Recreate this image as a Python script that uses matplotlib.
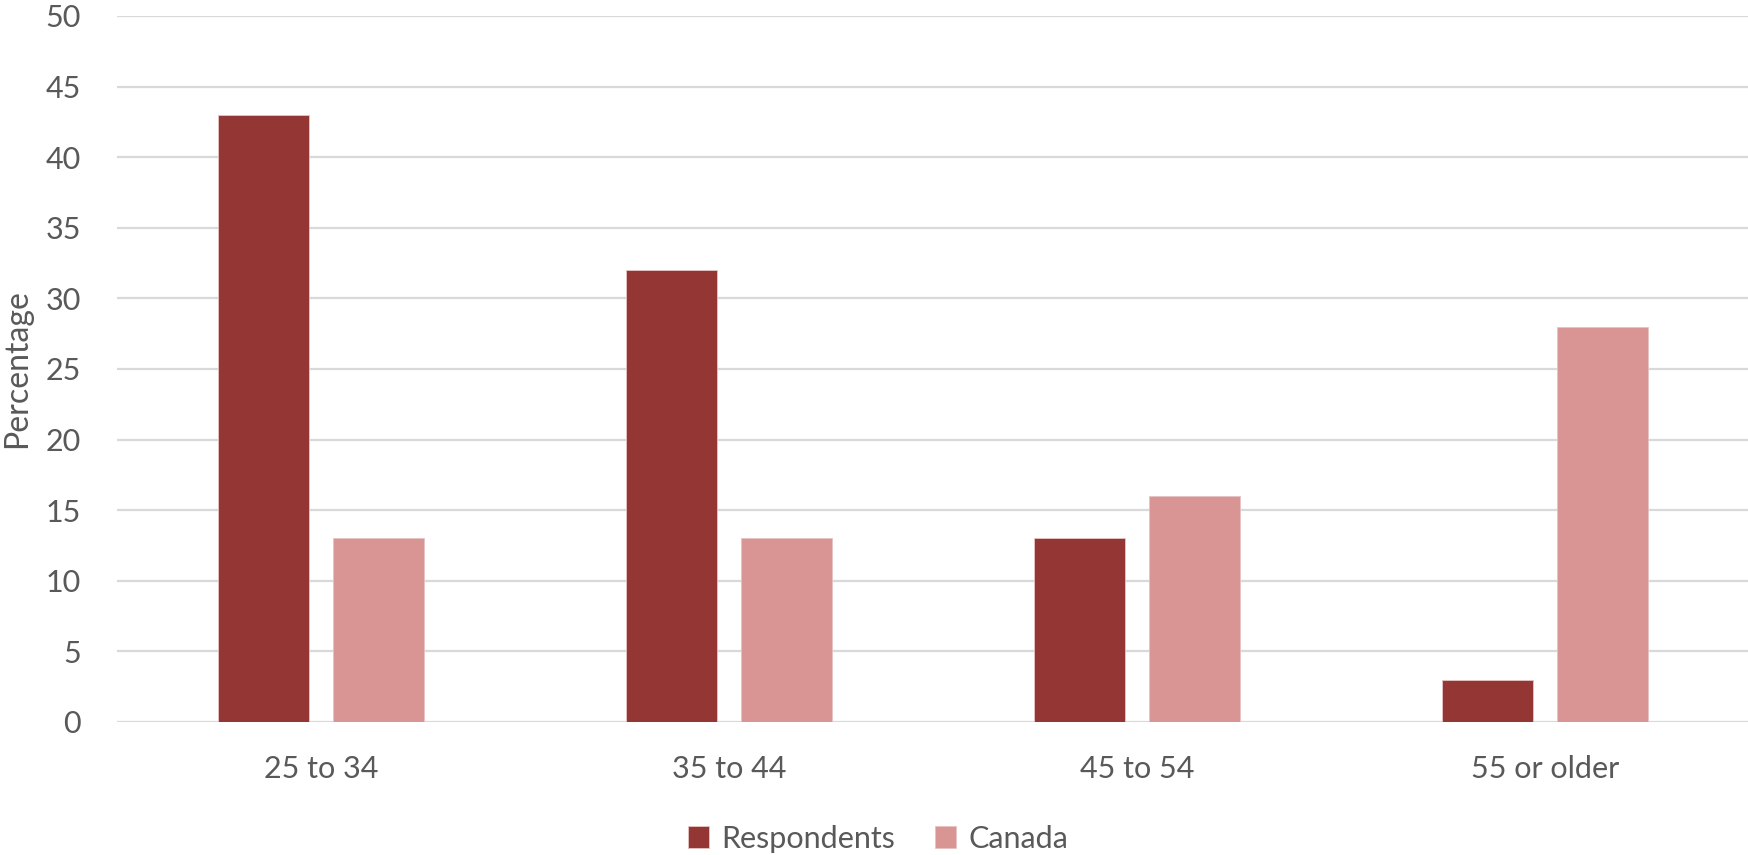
import matplotlib.pyplot as plt
import numpy as np

categories = ["25 to 34", "35 to 44", "45 to 54", "55 or older"]
respondents = [43, 32, 13, 3]
canada = [13, 13, 16, 28]
yticks = [0, 5, 10, 15, 20, 25, 30, 35, 40, 45, 50]

plt.rcParams['font.family'] = ['Lato', 'DejaVu Sans']
text_col = "#595959"
fs = 22

fig = plt.figure(figsize=(17.49, 8.55), dpi=100)
ax = fig.add_axes([0.0669, 0.1556, 0.9331, 0.8257])

x = np.arange(len(categories))
w = 0.225
ax.bar(x - 0.141, respondents, w, color="#943634", edgecolor="#e6c4c4", linewidth=0.6,
       label="Respondents", zorder=3)
ax.bar(x + 0.141, canada, w, color="#D99594", edgecolor="#e6c4c4", linewidth=0.6,
       label="Canada", zorder=3)

ax.set_xlim(-0.5, len(categories) - 0.5)
ax.set_ylim(0, 50)
ax.set_yticks(yticks)
ax.set_xticks(x)
ax.set_xticklabels(categories)
ax.tick_params(axis='both', length=0, labelsize=fs, colors=text_col)
ax.tick_params(axis='y', pad=26)
ax.tick_params(axis='x', pad=24)
ax.yaxis.grid(True, color="#D9D9D9", linewidth=1.6, zorder=0)
ax.set_axisbelow(True)
for s in ax.spines.values():
    s.set_visible(False)

ax.set_ylabel("Percentage", fontsize=fs + 1, color=text_col)
ax.yaxis.set_label_coords(-0.052, 0.5)

fig.legend(loc="center", bbox_to_anchor=(0.502, 0.019), ncol=2, frameon=False,
           fontsize=fs, handlelength=0.7, handleheight=0.7, handletextpad=0.4,
           columnspacing=1.3, labelcolor=text_col)

fig.savefig("out.png", dpi=100)
